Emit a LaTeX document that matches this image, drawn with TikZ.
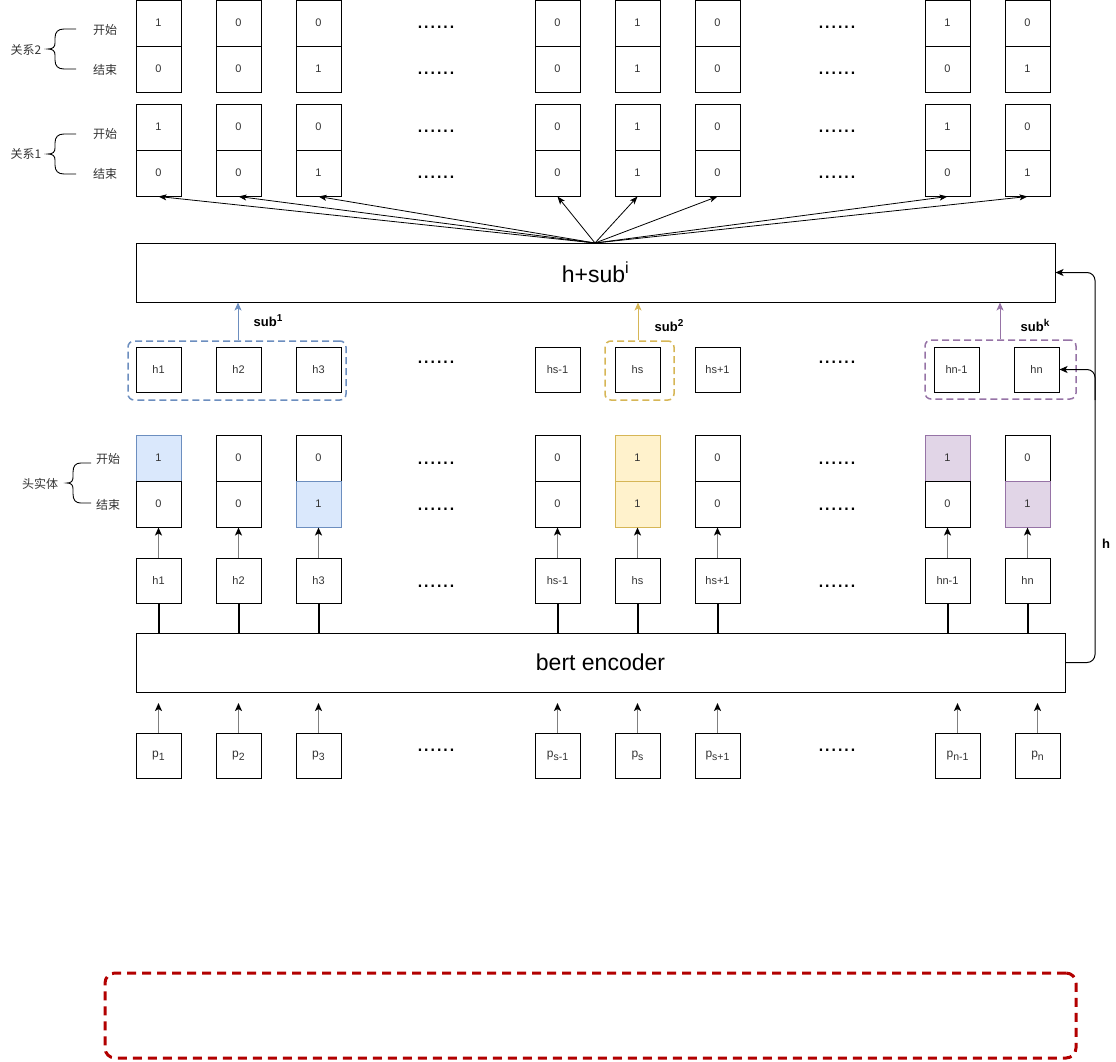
\documentclass[tikz,border=0pt]{standalone}
\usepackage{fontspec}
\setmainfont{Liberation Sans}
\newfontfamily\cjk{Noto Sans CJK SC}
\usetikzlibrary{arrows.meta}
\definecolor{bluef}{HTML}{DAE8FC}
\definecolor{blues}{HTML}{6C8EBF}
\definecolor{yelf}{HTML}{FFF2CC}
\definecolor{yels}{HTML}{D6B656}
\definecolor{purf}{HTML}{E1D5E7}
\definecolor{purs}{HTML}{9673A6}
\definecolor{redd}{HTML}{B20000}
\definecolor{txt}{HTML}{333333}
\definecolor{grayl}{HTML}{808080}
\newcommand{\psub}[1]{p\raisebox{-3pt}{\fontsize{10.5}{12}\selectfont #1}}
\newcommand{\bsup}[1]{\raisebox{5pt}{\fontsize{10}{12}\selectfont #1}}
\tikzset{
 cell/.style={draw=black, line width=1pt, minimum width=45pt, minimum height=46pt, inner sep=0pt, font=\fontsize{11}{13}\selectfont, text=txt},
 sq/.style={cell, minimum height=45pt},
 hb/.style={cell, fill=bluef, draw=blues},
 hy/.style={cell, fill=yelf, draw=yels},
 hp/.style={cell, fill=purf, draw=purs},
 bigbox/.style={draw=black, line width=1pt, inner sep=0pt, minimum height=59pt, font=\fontsize{23}{27}\selectfont, text=black},
 dots/.style={anchor=base, inner sep=0pt, font=\fontsize{23}{27}\selectfont, text=black},
 lab/.style={inner sep=0pt, font=\cjk\fontsize{12}{14}\selectfont, text=txt},
 fan/.style={line width=0.8pt, -{Stealth[length=8pt,width=6pt,inset=2pt]}},
 garr/.style={draw=grayl, line width=1.5pt, -{Stealth[length=8pt,width=7pt,inset=2pt,color=black]}},
 thick/.style={line width=2pt},
 grp/.style={line width=1.5pt, dash pattern=on 7pt off 4pt, rounded corners=6pt, minimum height=59pt, inner sep=0pt},
 subl/.style={inner sep=0pt, font=\bfseries\fontsize{13}{15}\selectfont, text=black},
 blk/.style={line width=1pt, -{Stealth[length=8pt,width=7pt,inset=2pt]}},
 carr/.style={line width=1pt, -{Stealth[length=8pt,width=7pt,inset=2pt]}},
 pic brace/.style={line width=0.9pt, draw=black},
 brc/.pic={\draw[pic brace] (28,-20) -- (16,-20) .. controls (10,-20) and (7,-17) .. (7,-11) -- (7,-6) .. controls (7,-2) and (5,0) .. (0,0) .. controls (5,0) and (7,2) .. (7,6) -- (7,11) .. controls (7,17) and (10,20) .. (16,20) -- (28,20);},
}
\begin{document}
\begin{tikzpicture}[x=1pt,y=-1pt]
\useasboundingbox (0,0) rectangle (1116,1061);

% relation rows
\foreach \x/\a/\b [count=\i] in {158.5/1/0, 238.5/0/0, 318.5/0/1, 557.5/0/0, 637.5/1/1, 717.5/0/0, 947.5/1/0, 1027.5/0/1} {
  \node[cell] (rtwoa\i) at (\x,23) {\a};
  \node[cell] (rtwob\i) at (\x,69) {\b};
  \node[cell] (ronea\i) at (\x,127) {\a};
  \node[cell] (roneb\i) at (\x,173) {\b};
}

% labels with braces
\pic (brtwo) at (48,49) {brc};
\node[lab] (lrtwo) at (26,50) {关系2};
\node[lab] (lrtwos) at (105,30) {开始};
\node[lab] (lrtwoe) at (105,70) {结束};
\pic (brone) at (48,154) {brc};
\node[lab] (lrone) at (26,154) {关系1};
\node[lab] (lrones) at (105,134) {开始};
\node[lab] (lronee) at (105,174) {结束};
\pic[xscale=0.86] (brh) at (67,483) {brc};
\node[lab] (lh) at (40,484) {头实体};
\node[lab] (lhs) at (108,459) {开始};
\node[lab] (lhe) at (108,505) {结束};

% dots
\foreach \y [count=\i] in {27,73,131,177,362,463,509,586,750} {
  \node[dots] (dl\i) at (436,\y+1.3) {......};
  \node[dots] (dr\i) at (837,\y+1.3) {......};
}

% h + sub box
\node[bigbox, minimum width=919pt] (hsub) at (595.5,272.5) {h+sub\textsuperscript{i}};
\coordinate (fo) at (595,243);
\foreach \i in {1,...,8} \draw[fan] (fo) -- (roneb\i.south);

% middle row
\foreach \x/\t [count=\i] in {158.5/h1, 238.5/h2, 318.5/h3, 557.5/hs-1, 637.5/hs, 717.5/hs+1, 956.5/hn-1, 1036.5/hn} {
  \node[sq] (m\i) at (\x,369.5) {\t};
}
\node[grp, draw=blues, minimum width=218pt] (gb) at (237,370.5) {};
\node[grp, draw=yels, minimum width=69pt] (gy) at (639.5,370.5) {};
\node[grp, draw=purs, minimum width=151pt] (gp) at (1000.5,369.5) {};
\draw[carr, draw=blues] (gb.north -| 238,0) -- (hsub.south -| 238,0);
\draw[carr, draw=yels] (gy.north -| 638,0) -- (hsub.south -| 638,0);
\draw[carr, draw=purs] (gp.north -| 1000,0) -- (hsub.south -| 1000,0);
\node[subl] (sone) at (268,321) {sub\bsup{1}};
\node[subl] (stwo) at (669,326) {sub\bsup{2}};
\node[subl] (sk) at (1035,325) {sub\bsup{k}};

% head entity rows
\foreach \x/\a/\b/\sa/\sb [count=\i] in {158.5/1/0/hb/cell, 238.5/0/0/cell/cell, 318.5/0/1/cell/hb, 557.5/0/0/cell/cell, 637.5/1/1/hy/hy, 717.5/0/0/cell/cell, 947.5/1/0/hp/cell, 1027.5/0/1/cell/hp} {
  \node[\sa] (heada\i) at (\x,458) {\a};
  \node[\sb] (headb\i) at (\x,504) {\b};
}

% bert encoder
\node[bigbox, minimum width=929pt] (bert) at (600.5,662.5) {bert encoder};

% h row
\foreach \x/\t [count=\i] in {158.5/h1, 238.5/h2, 318.5/h3, 557.5/hs-1, 637.5/hs, 717.5/hs+1, 947.5/hn-1, 1027.5/hn} {
  \node[sq] (hA\i) at (\x,580.5) {\t};
  \draw[garr] (hA\i.north) -- (headb\i.south);
  \draw[thick] (hA\i.south) -- (hA\i.south |- bert.north);
}

% p row
\foreach \x/\t [count=\i] in {158.5/1, 238.5/2, 318.5/3, 557.5/s-1, 637.5/s, 717.5/s+1, 957.5/n-1, 1037.5/n} {
  \node[sq, font=\fontsize{12}{14}\selectfont] (p\i) at (\x,755.5) {\psub{\t}};
  \coordinate (pt\i) at (\x,703);
  \draw[garr] (p\i.north) -- (pt\i);
}

% h feedback connector
\coordinate (vb) at (1095,400);
\draw[blk, rounded corners=8pt] (bert.east) -- (1095,662.5) -- (1095,272.5) -- (hsub.east);
\draw[blk, rounded corners=8pt] (vb) -- (1095,369.5) -- (m8.east);
\node[subl] (hl) at (1106,544) {h};

% red dashed box
\node[draw=redd, line width=3pt, dash pattern=on 9pt off 6pt, rounded corners=10pt, minimum width=971pt, minimum height=85pt, inner sep=0pt] (rb) at (590.5,1015.5) {};
\end{tikzpicture}
\end{document}
